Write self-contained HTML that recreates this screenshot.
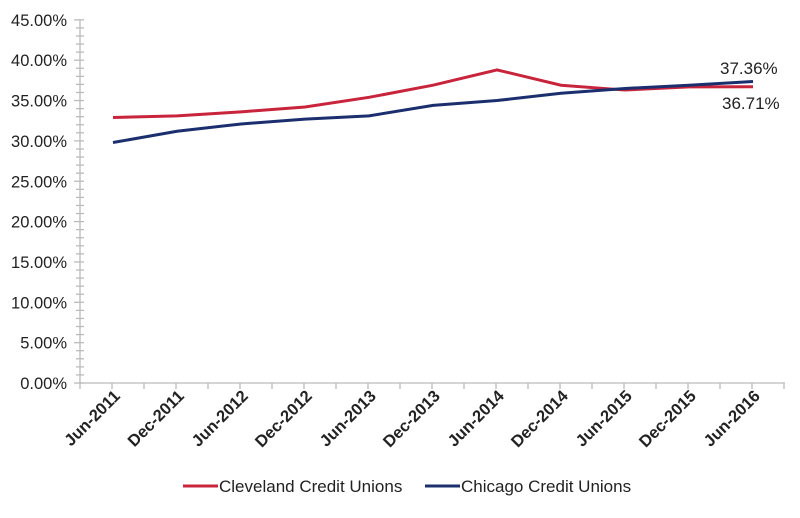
<!DOCTYPE html><html><head><style>body{margin:0;background:#fff}text{font-family:"Liberation Sans",Arial,sans-serif;fill:#222}</style></head><body>
<svg width="800" height="513" xmlns="http://www.w3.org/2000/svg">
<g stroke="#bbb" stroke-width="1.3" id="ax"></g>
<script>
const s="http://www.w3.org/2000/svg",svg=document.querySelector('svg'),ax=document.getElementById('ax');
function el(t,a,p){const e=document.createElementNS(s,t);for(const k in a)e.setAttribute(k,a[k]);(p||svg).appendChild(e);return e}
const Y=v=>383-8.07*v,X=k=>113+64*k;
el('line',{x1:80,y1:Y(45),x2:80,y2:383},ax);el('line',{x1:80,y1:383,x2:785,y2:383},ax);
for(let v=0;v<=45;v++){const w=v%5==0?6:4;el('line',{x1:80-w,x2:84,y1:Y(v),y2:Y(v)},ax);
if(v%5==0){const t=el('text',{x:67,y:Y(v)+6,'text-anchor':'end','font-size':16.5});t.textContent=v.toFixed(2)+'%';}}
for(let i=0;i<=22;i++){const x=80+32*i;if(x>786)break;el('line',{x1:x,x2:x,y1:383,y2:389},ax);}
const cats=['Jun-2011','Dec-2011','Jun-2012','Dec-2012','Jun-2013','Dec-2013','Jun-2014','Dec-2014','Jun-2015','Dec-2015','Jun-2016'];
cats.forEach((c,k)=>{const t=el('text',{x:X(k)+8,y:397,'text-anchor':'end','font-size':16.5,'font-weight':'bold',transform:`rotate(-45 ${X(k)+8} 397)`});t.textContent=c;});
const cl=[32.9,33.1,33.6,34.2,35.4,36.9,38.8,36.9,36.3,36.7,36.71],ch=[29.8,31.2,32.1,32.7,33.1,34.4,35.0,35.9,36.5,36.9,37.36];
el('polyline',{points:cl.map((v,k)=>X(k)+','+Y(v)).join(' '),fill:'none',stroke:'#c8243c','stroke-width':3});
el('polyline',{points:ch.map((v,k)=>X(k)+','+Y(v)).join(' '),fill:'none',stroke:'#1b2f6e','stroke-width':3});
let t=el('text',{x:720,y:74,'font-size':17});t.textContent='37.36%';
t=el('text',{x:722,y:109,'font-size':17});t.textContent='36.71%';
el('line',{x1:183,x2:218,y1:486,y2:486,stroke:'#c8243c','stroke-width':3});
t=el('text',{x:219,y:492,'font-size':17});t.textContent='Cleveland Credit Unions';
el('line',{x1:425,x2:460,y1:486,y2:486,stroke:'#1b2f6e','stroke-width':3});
t=el('text',{x:461,y:492,'font-size':17});t.textContent='Chicago Credit Unions';
</script>
</svg></body></html>
